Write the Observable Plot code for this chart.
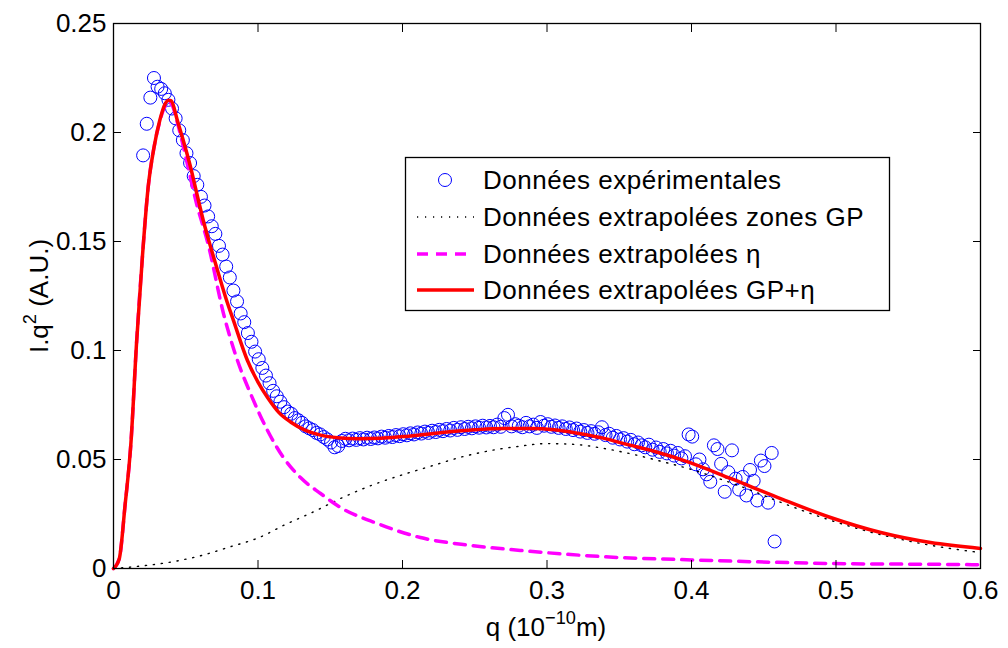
<!DOCTYPE html>
<html>
<head>
<meta charset="utf-8">
<script src="https://cdn.jsdelivr.net/npm/d3@7"></script>
<script src="https://cdn.jsdelivr.net/npm/@observablehq/plot@0.6"></script>
<style>
  body { margin: 0; background: #fff; }
  #wrap { position: relative; width: 1008px; height: 648px; font-family: "Liberation Sans", Arial, Helvetica, sans-serif; }
  #legend { position: absolute; left: 0; top: 0; pointer-events: none; }
</style>
</head>
<body>
<div id="wrap"></div>
<script>
// ---------- data ----------
const expQ = [0.0205,0.023,0.0255,0.028,0.0305,0.033,0.0355,0.038,0.0405,0.043,
0.0455,0.048,0.0505,0.053,0.0555,0.058,0.0605,0.063,0.0655,0.068,
0.0705,0.073,0.0755,0.078,0.0805,0.083,0.0855,0.088,0.0905,0.093,
0.0955,0.098,0.1005,0.103,0.1055,0.108,0.1105,0.113,0.1155,0.118,
0.1205,0.123,0.1255,0.128,0.1305,0.133,0.1355,0.138,0.1405,0.143,
0.1455,0.148,0.1505,0.153,0.1555,0.158,0.1605,0.163,0.1655,0.168,
0.1705,0.173,0.1755,0.178,0.1805,0.183,0.1855,0.188,0.1905,0.193,
0.1955,0.198,0.2005,0.203,0.2055,0.208,0.2105,0.213,0.2155,0.218,
0.2205,0.223,0.2255,0.228,0.2305,0.233,0.2355,0.238,0.2405,0.243,
0.2455,0.248,0.2505,0.253,0.2555,0.258,0.2605,0.263,0.2655,0.268,
0.2705,0.273,0.2755,0.278,0.2805,0.283,0.2855,0.288,0.2905,0.293,
0.2955,0.298,0.3005,0.303,0.3055,0.308,0.3105,0.313,0.3155,0.318,
0.3205,0.323,0.3255,0.328,0.3305,0.333,0.3355,0.338,0.3405,0.343,
0.3455,0.348,0.3505,0.353,0.3555,0.358,0.3605,0.363,0.3655,0.368,
0.3705,0.373,0.3755,0.378,0.3805,0.383,0.3855,0.388,0.3905,0.393,
0.3955,0.398,0.4005,0.403,0.4055,0.408,0.4105,0.413,0.4155,0.418,
0.4205,0.423,0.4255,0.428,0.4305,0.433,0.4355,0.438,0.4405,0.443,
0.4455,0.448,0.4505,0.453,0.4555,0.4575];
const expI = [0.1895,0.2040,0.2160,0.2250,0.2210,0.2200,0.2180,0.2150,0.2110,0.2065,
0.2010,0.1965,0.1905,0.1860,0.1800,0.1760,0.1705,0.1665,0.1615,0.1570,
0.1535,0.1480,0.1440,0.1385,0.1335,0.1275,0.1225,0.1170,0.1130,0.1080,
0.1040,0.0995,0.0960,0.0920,0.0885,0.0850,0.0815,0.0790,0.0765,0.0740,
0.0720,0.0710,0.0690,0.0680,0.0668,0.0652,0.0643,0.0635,0.0622,0.0615,
0.0603,0.0592,0.0578,0.0556,0.0562,0.0585,0.0595,0.0588,0.0596,0.0590,
0.0598,0.0592,0.0600,0.0594,0.0601,0.0597,0.0605,0.0600,0.0608,0.0603,
0.0612,0.0607,0.0616,0.0611,0.0620,0.0615,0.0624,0.0619,0.0628,0.0622,
0.0632,0.0626,0.0636,0.0630,0.0640,0.0633,0.0645,0.0636,0.0648,0.0640,
0.0650,0.0643,0.0652,0.0646,0.0655,0.0647,0.0654,0.0648,0.0660,0.0650,
0.0690,0.0705,0.0652,0.0662,0.0655,0.0648,0.0668,0.0652,0.0660,0.0645,
0.0672,0.0655,0.0662,0.0650,0.0656,0.0645,0.0652,0.0640,0.0647,0.0635,
0.0642,0.0628,0.0635,0.0622,0.0630,0.0618,0.0625,0.0648,0.0612,0.0618,
0.0600,0.0608,0.0592,0.0598,0.0582,0.0590,0.0570,0.0578,0.0565,0.0556,
0.0568,0.0545,0.0555,0.0535,0.0548,0.0528,0.0540,0.0518,0.0530,0.0505,
0.0515,0.0615,0.0605,0.0478,0.0500,0.0455,0.0432,0.0398,0.0565,0.0548,
0.0480,0.0352,0.0442,0.0542,0.0412,0.0362,0.0420,0.0335,0.0452,0.0402,
0.0312,0.0495,0.0470,0.0302,0.0530,0.0124];

const gpQ = [0,0.02,0.04,0.06,0.08,0.10,0.12,0.14,0.15,0.16,0.18,0.20,0.22,0.24,0.26,0.28,0.30,
0.32,0.34,0.36,0.38,0.40,0.42,0.44,0.46,0.48,0.50,0.52,0.54,0.56,0.58,0.60];
const gpI = [0,0.0012,0.0030,0.0058,0.0098,0.0140,0.0205,0.0265,0.0298,0.0330,0.0385,0.0430,0.0470,0.0510,0.0540,0.0560,0.0573,
0.0569,0.0550,0.0523,0.0490,0.0454,0.0410,0.0362,0.0308,0.0258,0.0213,0.0174,0.0141,0.0113,0.0091,0.0073];

const etaQ = [0,0.004,0.008,0.012,0.016,0.020,0.024,0.028,0.032,0.036,0.038,0.040,0.044,0.048,0.053,0.058,0.062,0.065,
0.0761,0.0858,0.0948,0.1066,0.1176,0.1294,0.1433,0.1571,0.1827,0.2124,0.247,0.2816,0.3163,0.3509,0.3924,0.4962,0.5882,0.60];
const etaI = [0,0.0045,0.029,0.057,0.104,0.143,0.175,0.193,0.205,0.2125,0.2138,0.2132,0.205,0.1945,0.180,0.166,0.157,0.150,
0.117,0.0954,0.0803,0.0633,0.0509,0.0417,0.0344,0.0280,0.0206,0.0142,0.0106,0.0083,0.0064,0.0050,0.0041,0.0023,0.0018,0.0017];

const sumQ = [0,0.004,0.008,0.012,0.016,0.020,0.024,0.028,0.032,0.036,0.038,0.040,0.044,0.048,0.053,0.058,0.062,0.067,0.072,0.078,0.083,
0.0927,0.100,0.1066,0.1145,0.1225,0.1325,0.1433,0.155,0.170,0.185,0.200,0.225,0.250,0.270,0.290,0.305,0.320,0.339,0.356,0.374,0.399,
0.427,0.4616,0.4962,0.531,0.5654,0.60];
const sumI = [0,0.0045,0.029,0.057,0.104,0.143,0.175,0.193,0.2055,0.2135,0.2148,0.2145,0.206,0.197,0.185,0.171,0.160,0.148,0.1367,0.1235,0.1138,
0.0954,0.0855,0.0784,0.0715,0.0672,0.0635,0.0612,0.0600,0.0595,0.0597,0.0605,0.0622,0.0636,0.0642,0.0642,0.0636,0.0622,0.0598,0.0568,0.0538,0.0486,
0.0413,0.0321,0.0234,0.0165,0.0119,0.0092];

const xTicks = [0,0.1,0.2,0.3,0.4,0.5,0.6];
const xTickLabels = ["0","0.1","0.2","0.3","0.4","0.5","0.6"];
const yTicks = [0,0.05,0.1,0.15,0.2,0.25];
const yTickLabels = ["0","0.05","0.1","0.15","0.2","0.25"];
const legendLabels = ["Données expérimentales","Données extrapolées zones GP","Données extrapolées η","Données extrapolées GP+η"];

// ---------- tables ----------
const expData = expQ.map((q,i) => ({q, v: expI[i]}));
const gpData = gpQ.map((q,i) => ({q, v: gpI[i]}));
const etaData = etaQ.map((q,i) => ({q, v: etaI[i]}));
const sumData = sumQ.map((q,i) => ({q, v: sumI[i]}));

const FONT = 26;
const chart = Plot.plot({
  width: 1008,
  height: 648,
  marginLeft: 113,
  marginRight: 28,
  marginTop: 23,
  marginBottom: 80,
  style: {fontFamily: '"Liberation Sans", Arial, Helvetica, sans-serif', fontSize: FONT + "px", color: "#000", background: "#fff"},
  x: {domain: [0, 0.6]},
  y: {domain: [0, 0.25]},
  marks: [
    Plot.dot(expData, {x: "q", y: "v", r: 6.5, stroke: "#0000ff", strokeWidth: 1, fill: "none"}),
    Plot.line(gpData, {x: "q", y: "v", stroke: "#000", strokeWidth: 1.4, strokeDasharray: "1.2,6.8", curve: "monotone-x"}),
    Plot.line(etaData, {x: "q", y: "v", stroke: "#ff00ff", strokeWidth: 3.5, strokeDasharray: "11,8", curve: "monotone-x"}),
    Plot.line(sumData, {x: "q", y: "v", stroke: "#ff0000", strokeWidth: 3.5, curve: "monotone-x"}),
    Plot.frame({stroke: "#000", strokeWidth: 1.3}),
    // inward ticks
    Plot.axisX(xTicks, {anchor: "bottom", tickSize: -8, tickFormat: () => "", fill: "none", label: null}),
    Plot.axisX(xTicks, {anchor: "top", tickSize: -8, tickFormat: () => "", fill: "none", label: null}),
    Plot.axisY(yTicks, {anchor: "left", tickSize: -8, tickFormat: () => "", fill: "none", label: null}),
    Plot.axisY(yTicks, {anchor: "right", tickSize: -8, tickFormat: () => "", fill: "none", label: null}),
    // tick labels
    Plot.axisX(xTicks, {anchor: "bottom", tickSize: 0, tickPadding: 12, tickFormat: (d, i) => xTickLabels[i], label: null, fontSize: FONT}),
    Plot.axisY(yTicks, {anchor: "left", tickSize: 0, tickPadding: 7, tickFormat: (d, i) => yTickLabels[i], label: null, fontSize: FONT})
  ]
});

const wrap = document.getElementById("wrap");
wrap.appendChild(chart);

// axis titles with superscripts
const svg = d3.select(chart);
const yl = svg.append("text")
  .attr("transform", "translate(48,296) rotate(-90)")
  .attr("text-anchor", "middle")
  .attr("font-size", FONT)
  .attr("fill", "#000");
yl.append("tspan").text("I.q");
yl.append("tspan").attr("font-size", FONT * 0.7).attr("dy", -FONT * 0.45).text("2");
yl.append("tspan").attr("dy", FONT * 0.45).text(" (A.U.)");

const xl = svg.append("text")
  .attr("x", 546).attr("y", 636)
  .attr("text-anchor", "middle")
  .attr("font-size", FONT)
  .attr("fill", "#000");
xl.append("tspan").text("q (10");
xl.append("tspan").attr("font-size", FONT * 0.7).attr("dy", -FONT * 0.45).text("−10");
xl.append("tspan").attr("dy", FONT * 0.45).text("m)");

// legend overlay
const lg = d3.select(wrap).append("svg")
  .attr("id", "legend")
  .attr("width", 1008).attr("height", 648)
  .style("font-family", '"Liberation Sans", Arial, Helvetica, sans-serif');
lg.append("rect").attr("x", 405.5).attr("y", 157.5).attr("width", 484).attr("height", 153)
  .attr("fill", "#fff").attr("stroke", "#000").attr("stroke-width", 1.3);
const rowsY = [180, 217, 254, 290];
const sx0 = 417, sx1 = 474, tx = 483;
lg.append("circle").attr("cx", (sx0 + sx1) / 2 - 0.5).attr("cy", rowsY[0]).attr("r", 6.5)
  .attr("fill", "none").attr("stroke", "#0000ff").attr("stroke-width", 1);
lg.append("line").attr("x1", sx0).attr("x2", sx1).attr("y1", rowsY[1]).attr("y2", rowsY[1])
  .attr("stroke", "#000").attr("stroke-width", 1.4).attr("stroke-dasharray", "1.2,6.8");
lg.append("line").attr("x1", sx0).attr("x2", sx1).attr("y1", rowsY[2]).attr("y2", rowsY[2])
  .attr("stroke", "#ff00ff").attr("stroke-width", 3.5).attr("stroke-dasharray", "11,8");
lg.append("line").attr("x1", sx0).attr("x2", sx1).attr("y1", rowsY[3]).attr("y2", rowsY[3])
  .attr("stroke", "#ff0000").attr("stroke-width", 3.5);
legendLabels.forEach((t, i) => {
  lg.append("text").attr("x", tx).attr("y", rowsY[i]).attr("dy", "0.35em")
    .attr("font-size", FONT).attr("letter-spacing", "0.5px").attr("fill", "#000").text(t);
});
</script>
</body>
</html>
